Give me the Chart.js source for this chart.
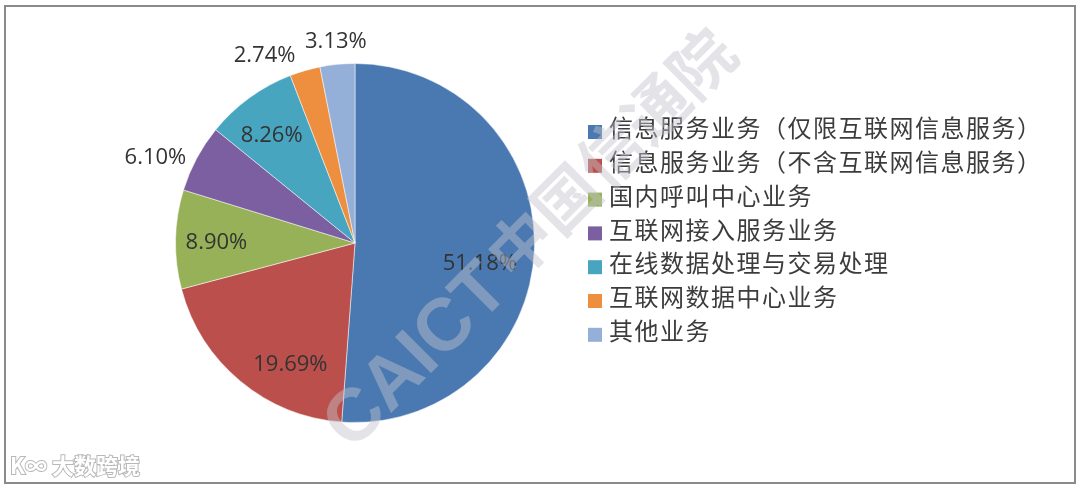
<!DOCTYPE html>
<html>
<head>
<meta charset="utf-8">
<script src="https://cdn.jsdelivr.net/npm/chart.js@4/dist/chart.umd.min.js"></script>
<style>
  html, body { margin: 0; padding: 0; background: #fff; }
  #wrap { width: 1080px; height: 491px; position: relative; }
</style>
</head>
<body>
<div id="wrap"><canvas id="pieChart" width="1080" height="491"></canvas></div>
<script>
// ===== 데이터 =====
const categories = [
    '信息服务业务（仅限互联网信息服务）',
    '信息服务业务（不含互联网信息服务）',
    '国内呼叫中心业务',
    '互联网接入服务业务',
    '在线数据处理与交易处理',
    '互联网数据中心业务',
    '其他业务'
];
const shareValues = [51.18, 19.69, 8.90, 6.10, 8.26, 2.74, 3.13];
const valueLabels = ['51.18%', '19.69%', '8.90%', '6.10%', '8.26%', '2.74%', '3.13%'];

// ===== 스타일 =====
const sliceColors = ['#4A79B2', '#BA4F4C', '#97B158', '#7C5FA0', '#48A5BF', '#EE8F3F', '#94AFD8'];
// 라벨 위치: 반지름 비율, 각도 보정(도)
const labelRadius = [0.705, 0.767, 0.772, 1.21, 0.757, 1.157, 1.124];
const labelAngleShift = [7.4, -11.7, -1.2, -4.9, -1.8, -9.6, 0.2];

// 외곽 테두리
const framePlugin = {
    id: 'frame',
    beforeDraw(chart) {
        const ctx = chart.ctx;
        ctx.save();
        ctx.fillStyle = '#fff';
        ctx.fillRect(0, 0, chart.width, chart.height);
        ctx.strokeStyle = '#8a8a8a';
        ctx.lineWidth = 2;
        ctx.strokeRect(5, 6, 1070, 477);
        ctx.restore();
    }
};

// 퍼센트 라벨
const sliceLabelPlugin = {
    id: 'sliceLabels',
    afterDatasetsDraw(chart) {
        const ctx = chart.ctx;
        const arcs = chart.getDatasetMeta(0).data;
        ctx.save();
        ctx.font = '22px "Open Sans"';
        ctx.fillStyle = '#333';
        ctx.textAlign = 'center';
        ctx.textBaseline = 'middle';
        arcs.forEach((arc, i) => {
            const p = arc.getProps(['x', 'y', 'startAngle', 'endAngle', 'outerRadius'], true);
            const mid = (p.startAngle + p.endAngle) / 2 + labelAngleShift[i] * Math.PI / 180;
            const r = p.outerRadius * labelRadius[i];
            ctx.fillText(valueLabels[i], p.x + Math.cos(mid) * r, p.y + Math.sin(mid) * r);
        });
        ctx.restore();
    }
};

// 범례 (오른쪽)
const legendPlugin = {
    id: 'sideLegend',
    afterDraw(chart) {
        const ctx = chart.ctx;
        const colors = chart.data.datasets[0].backgroundColor;
        ctx.save();
        ctx.font = '24px "Noto Sans CJK SC"';
        ctx.letterSpacing = '1.5px';
        ctx.textBaseline = 'middle';
        chart.data.labels.forEach((label, i) => {
            const cy = 132 + i * 33.8;
            ctx.fillStyle = colors[i];
            ctx.fillRect(588, cy - 7, 14, 14);
            ctx.fillStyle = '#3c3c3c';
            ctx.fillText(label, 609, cy - 4);
        });
        ctx.restore();
    }
};

// 워터마크
const watermarkPlugin = {
    id: 'watermark',
    afterDraw(chart) {
        const ctx = chart.ctx;
        ctx.save();
        ctx.translate(352, 452);
        ctx.rotate(-Math.PI / 4);
        ctx.fillStyle = 'rgba(195, 195, 205, 0.45)';
        ctx.font = 'bold 74px "Liberation Sans"';
        ctx.fillText('CAICT', 0, 0);
        const w = ctx.measureText('CAICT').width;
        ctx.font = 'bold 64px "Noto Sans CJK SC"';
        ctx.fillText('中国信通院', w + 8, -4);
        ctx.restore();

        ctx.save();
        ctx.font = 'bold 22px "Noto Sans CJK SC"';
        ctx.textBaseline = 'middle';
        ctx.lineWidth = 2;
        ctx.strokeStyle = '#b8b8b8';
        ctx.fillStyle = '#fff';
        ctx.strokeText('K∞', 10, 466);
        ctx.fillText('K∞', 10, 466);
        ctx.strokeText('大数跨境', 52, 466);
        ctx.fillText('大数跨境', 52, 466);
        ctx.restore();
    }
};

const pieChart = new Chart(document.getElementById('pieChart'), {
    type: 'pie',
    data: {
        labels: categories,
        datasets: [{
            data: shareValues,
            backgroundColor: sliceColors,
            borderColor: 'rgba(255,255,255,0.5)',
            borderWidth: 1
        }]
    },
    options: {
        responsive: false,
        animation: false,
        layout: { padding: { left: 175, right: 545, top: 63, bottom: 68 } },
        plugins: {
            legend: { display: false },
            tooltip: { enabled: false }
        }
    },
    plugins: [framePlugin, sliceLabelPlugin, legendPlugin, watermarkPlugin]
});
</script>
</body>
</html>
